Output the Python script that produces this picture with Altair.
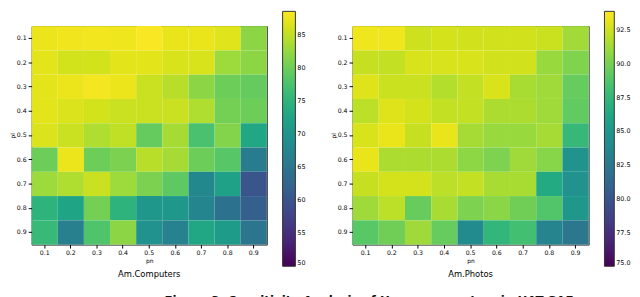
import altair as alt
import pandas as pd

pn_labels = ["0.1", "0.2", "0.3", "0.4", "0.5", "0.6", "0.7", "0.8", "0.9"]
pl_labels = ["0.1", "0.2", "0.3", "0.4", "0.5", "0.6", "0.7", "0.8", "0.9"]

# rows = pl (0.1 .. 0.9), columns = pn (0.1 .. 0.9)
computers = [
    [87.6, 87.8, 87.9, 87.7, 88.4, 87.4, 87.4, 86.8, 82.0],
    [87.0, 86.0, 86.0, 87.0, 87.0, 86.4, 86.4, 83.0, 82.0],
    [87.0, 87.5, 88.0, 87.5, 85.5, 84.5, 82.0, 80.0, 79.5],
    [87.0, 86.5, 86.0, 85.5, 85.5, 85.5, 84.0, 80.5, 80.0],
    [86.5, 85.5, 84.0, 85.0, 79.5, 83.5, 77.5, 81.5, 73.0],
    [80.0, 87.5, 80.0, 81.0, 84.5, 83.5, 80.0, 78.5, 66.0],
    [83.0, 84.0, 85.5, 83.0, 81.0, 79.0, 68.0, 72.0, 60.0],
    [75.0, 72.5, 80.5, 75.0, 70.5, 70.5, 67.5, 64.5, 61.5],
    [76.0, 66.5, 78.0, 82.0, 69.5, 67.0, 73.0, 71.0, 65.0],
]
photos = [
    [93.5, 93.5, 92.5, 92.7, 92.6, 92.6, 92.6, 92.4, 91.3],
    [92.3, 92.2, 92.8, 92.8, 92.8, 92.6, 92.6, 91.0, 90.3],
    [93.0, 92.4, 92.4, 91.8, 92.2, 92.8, 91.5, 91.2, 89.5],
    [92.0, 93.0, 92.7, 92.2, 92.2, 91.6, 91.6, 91.2, 89.3],
    [92.8, 93.3, 92.3, 93.3, 91.4, 91.0, 91.0, 91.4, 87.7],
    [93.3, 91.6, 91.6, 91.6, 90.7, 90.2, 91.2, 90.5, 84.7],
    [92.3, 92.7, 92.7, 92.0, 92.2, 91.5, 91.5, 86.5, 84.5],
    [91.2, 92.0, 89.5, 91.5, 90.2, 90.6, 89.8, 88.8, 85.0],
    [89.0, 89.8, 91.2, 89.5, 84.0, 87.5, 88.2, 83.5, 82.5],
]
comp_domain = [50, 88.6]
comp_ticks = [50, 55, 60, 65, 70, 75, 80, 85]
photo_domain = [75, 93.9]
photo_ticks = [75.0, 77.5, 80.0, 82.5, 85.0, 87.5, 90.0, 92.5]
caption = "Figure 3: Sensitivity Analysis of Hyperparameters in HAT-GAE"

FONT = "DejaVu Sans"


def to_frame(values):
    rows = []
    for i, pl in enumerate(pl_labels):
        for j, pn in enumerate(pn_labels):
            rows.append({"pl": pl, "pn": pn, "v": values[i][j]})
    return pd.DataFrame(rows)


def heat(values, domain, ticks, fmt, name, thickness, width):
    return alt.Chart(to_frame(values)).mark_rect().encode(
        x=alt.X("pn:O", sort=pn_labels,
                scale=alt.Scale(paddingInner=0, paddingOuter=0),
                axis=alt.Axis(title="pn", labelAngle=0)),
        y=alt.Y("pl:O", sort=pl_labels,
                scale=alt.Scale(paddingInner=0, paddingOuter=0),
                axis=alt.Axis(title="pl")),
        color=alt.Color("v:Q",
                        scale=alt.Scale(scheme="viridis", domain=domain),
                        legend=alt.Legend(
                            orient="none", legendX=width + 16, legendY=-15,
                            title=None, values=ticks, format=fmt,
                            gradientLength=259, gradientThickness=thickness,
                            gradientStrokeColor="#333", gradientStrokeWidth=1,
                            labelFontSize=6.5, labelFont=FONT, labelColor="#000",
                            labelOverlap=False, labelOffset=2, padding=0)),
    ).properties(
        width=width, height=222,
        title=alt.TitleParams(name, orient="bottom", fontSize=8.5,
                              fontWeight="normal", font=FONT, color="#000",
                              offset=3),
    )


left = heat(computers, comp_domain, comp_ticks, "d", "Am.Computers", 13, 239)
right = heat(photos, photo_domain, photo_ticks, ".1f", "Am.Photos", 10, 240)

chart = alt.hconcat(
    left, right, spacing=22, padding=0,
    title=alt.TitleParams(
        caption, orient="bottom", anchor="start", dx=158, offset=17,
        fontSize=12, fontWeight="bold", font=FONT, color="#111", limit=466),
).resolve_scale(color="independent").configure_view(
    stroke="#333", strokeWidth=1
).configure_axis(
    labelFont=FONT, titleFont=FONT, labelFontSize=6.3, titleFontSize=6,
    titleFontWeight="normal", labelColor="#000", titleColor="#000",
    domain=False, tickColor="#000", tickSize=3.5, labelPadding=2,
    titlePadding=1, grid=False,
)

chart.save("out.html", embed_options={"renderer": "svg", "actions": False})
